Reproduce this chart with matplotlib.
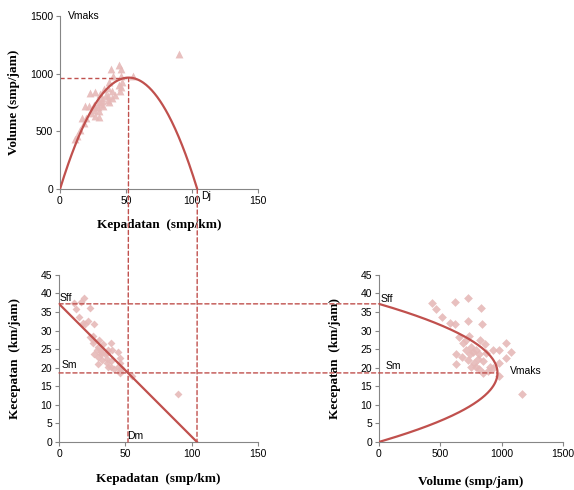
import numpy as np
import matplotlib.pyplot as plt
from matplotlib.patches import ConnectionPatch

# observed data (density smp/km, speed km/jam, volume smp/jam)
kepadatan = [11.6, 12.9, 15.4, 17.9, 19.4, 16.3, 18.6, 22.2, 23.0, 26.5,
             26.7, 29.6, 23.3, 25.9, 25.9, 25.6, 29.3, 31.7, 31.8, 34.5,
             29.7, 32.7, 36.2, 36.0, 39.3, 36.5, 30.0, 33.0, 37.3, 39.8,
             39.0, 44.6, 45.9, 46.2, 46.7, 45.8, 46.3, 55.2, 89.8, 39.1,
             37.1, 41.8, 44.7, 28.6, 31.3]
kecepatan = [37.5, 35.8, 33.6, 32.1, 31.8, 37.8, 38.9, 32.7, 36.2, 31.7,
             23.6, 21.1, 28.2, 26.6, 27.5, 28.6, 25.7, 24.2, 24.9, 23.8,
             22.9, 22.2, 21.3, 22.4, 21.7, 24.0, 27.5, 26.3, 24.9, 24.7,
             26.6, 24.2, 22.6, 21.3, 19.9, 18.5, 19.2, 17.8, 13.0, 20.3,
             20.3, 19.6, 20.3, 24.9, 23.6]
volume = [435, 462, 516, 576, 617, 617, 725, 725, 834, 840,
          630, 625, 657, 690, 712, 733, 753, 766, 793, 820,
          679, 725, 772, 807, 853, 875, 826, 867, 929, 983,
          1038, 1079, 1038, 983, 929, 848, 888, 983, 1168, 793,
          753, 820, 907, 712, 739]

# Greenshields model parameters
Sff = 37.2
Dj = 104.0
Dm = Dj / 2
Sm = Sff / 2
Vmaks = Sff * Dj / 4

red = '#C0504D'
pink = '#E6B9B8'
tickfont = dict(family='Liberation Sans', size=7.5)
labfont = dict(family='Liberation Serif', size=9.5, weight='bold')

fig = plt.figure(figsize=(5.74, 4.9), dpi=100)
ax1 = fig.add_axes([0.1045, 0.614, 0.345, 0.353])
ax2 = fig.add_axes([0.1028, 0.098, 0.3467, 0.341])
ax3 = fig.add_axes([0.660, 0.098, 0.3206, 0.341])

for ax in (ax1, ax2, ax3):
    for s in ('top', 'right'):
        ax.spines[s].set_visible(False)
    for s in ('left', 'bottom'):
        ax.spines[s].set_color('#868686')
        ax.spines[s].set_linewidth(0.8)
    ax.tick_params(direction='out', length=3, width=0.8, color='#868686', pad=2)

k = np.linspace(0, Dj, 200)
v = Sff * (1 - k / Dj)
q = k * v

# volume vs density
ax1.scatter(kepadatan, volume, marker='^', s=32, color=pink, alpha=0.9, zorder=2, linewidths=0)
ax1.plot(k, q, color=red, lw=1.6, zorder=3)
ax1.plot([0, Dm], [Vmaks, Vmaks], color=red, lw=1, ls=(0, (3, 2)))
ax1.set_xlim(0, 150)
ax1.set_ylim(0, 1500)
ax1.set_xticks([0, 50, 100, 150])
ax1.set_yticks([0, 500, 1000, 1500])
ax1.set_xlabel('Kepadatan  (smp/km)', **labfont, labelpad=9)
ax1.set_ylabel('Volume (smp/jam)', **labfont, labelpad=7)
ax1.text(6, 1500, 'Vmaks', **tickfont, va='center')
ax1.text(Dj + 3, -15, 'Dj', **tickfont, va='top')

# speed vs density
ax2.scatter(kepadatan, kecepatan, marker='D', s=16, color=pink, alpha=0.9, zorder=2, linewidths=0)
ax2.plot(k, v, color=red, lw=1.6, zorder=3)
ax2.set_xlim(0, 150)
ax2.set_ylim(0, 45)
ax2.set_xticks([0, 50, 100, 150])
ax2.set_yticks(range(0, 46, 5))
ax2.set_xlabel('Kepadatan  (smp/km)', **labfont, labelpad=10)
ax2.set_ylabel('Kecepatan  (km/jam)', **labfont, labelpad=14)
ax2.text(0.3, 38.8, 'Sff', **tickfont, va='center')
ax2.text(2, 20.8, 'Sm', **tickfont, va='center')
ax2.text(51, 1.5, 'Dm', **tickfont, va='center')

# speed vs volume
ax3.scatter(volume, kecepatan, marker='D', s=20, color=pink, alpha=0.9, zorder=2, linewidths=0)
ax3.plot(q, v, color=red, lw=1.6, zorder=3)
ax3.set_xlim(0, 1500)
ax3.set_ylim(0, 45)
ax3.set_xticks([0, 500, 1000, 1500])
ax3.set_yticks(range(0, 46, 5))
ax3.set_xlabel('Volume (smp/jam)', **labfont, labelpad=12)
ax3.set_ylabel('Kecepatan  (km/jam)', **labfont, labelpad=14)
ax3.text(15, 38.6, 'Sff', **tickfont, va='center')
ax3.text(55, 20.4, 'Sm', **tickfont, va='center')
ax3.text(1065, 19.0, 'Vmaks', **tickfont, va='center')

for ax in (ax1, ax2, ax3):
    for t in ax.get_xticklabels() + ax.get_yticklabels():
        t.set(**tickfont)

# guide lines running across the panels
dash = dict(color=red, lw=1, ls=(0, (3, 2)), zorder=5)
guides = [
    (ax1, (Dm, Vmaks), ax2, (Dm, 0)),
    (ax1, (Dj, 0), ax2, (Dj, 0)),
    (ax2, (0, Sff), ax3, (0, Sff)),
    (ax2, (0, Sm), ax3, (Vmaks, Sm)),
]
for axa, pa, axb, pb in guides:
    con = ConnectionPatch(xyA=pa, coordsA=axa.transData, xyB=pb, coordsB=axb.transData, **dash)
    fig.add_artist(con)

fig.savefig('out.png', dpi=100)
